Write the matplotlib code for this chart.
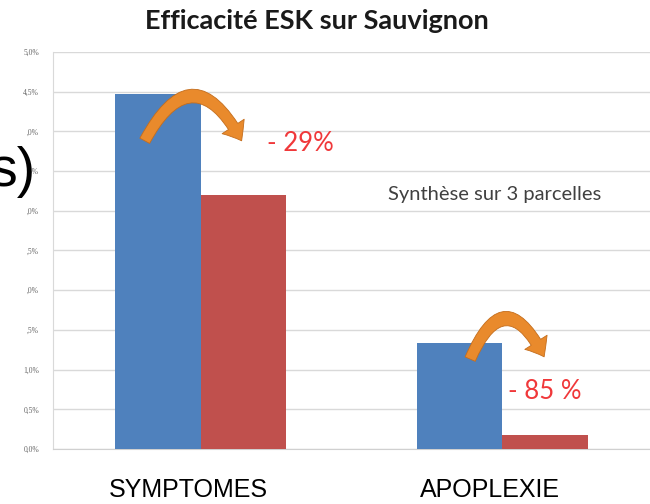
import matplotlib
matplotlib.use("Agg")
import matplotlib.pyplot as plt
import matplotlib.transforms as mtransforms
from matplotlib.patches import FancyArrowPatch
import numpy as np

categories = ["SYMPTOMES", "APOPLEXIE"]
temoin = [4.47, 1.34]
esk = [3.20, 0.18]
reductions = ["- 29%", "- 85 %"]
ytick_vals = [0.0, 0.5, 1.0, 1.5, 2.0, 2.5, 3.0, 3.5, 4.0, 4.5, 5.0]
ytick_labels = ["0,0%", "0,5%", "1,0%", ",5%", ",0%", ",5%", ",0%", ",5%", ",0%", "4,5%", "5,0%"]

blue = "#4F81BD"
red = "#C0504D"
orange = "#E98A2C"

fig = plt.figure(figsize=(6.5, 5.04), dpi=100)
ax = fig.add_axes([0.0815, 0.109, 0.9185, 0.788])

x = np.arange(len(categories))
w = 0.283
ax.bar(x - w/2, temoin, w, color=blue, zorder=3)
ax.bar(x + w/2, esk, w, color=red, zorder=3)

ax.set_xlim(-0.49, 1.49)
ax.set_ylim(0, 5.0)
ax.set_yticks(ytick_vals)
ax.set_yticklabels(ytick_labels, fontsize=5.5, color="#666666", family="Liberation Serif")
ax.tick_params(axis="y", length=0, pad=10)
ax.set_xticks([])
ax.grid(axis="y", color="#d9d9d9", linewidth=1, zorder=0)
for s in ["top", "right"]:
    ax.spines[s].set_visible(False)
ax.spines["left"].set_color("#d9d9d9")
ax.spines["bottom"].set_color("#d0d0d0")

# category labels below the axis
trans = mtransforms.blended_transform_factory(ax.transData, fig.transFigure)
for xi, lab in zip(x, categories):
    fig.text(xi - 0.04, 0.028, lab, transform=trans, ha="center", va="center",
             fontsize=18, family="Liberation Sans", color="black")

# curved orange arrows from control bar to treated bar
arc_rad = [-0.95, -1.1]
tails = [(-0.19, temoin[0] - 0.62), (0.89, temoin[1] - 0.24)]
tips = [(0.14, temoin[0] - 0.62), (1.143, temoin[1] - 0.21)]
for t, h, r in zip(tails, tips, arc_rad):
    arr = FancyArrowPatch(t, h, connectionstyle=f"arc3,rad={r}",
                          arrowstyle="simple,head_width=19,head_length=12,tail_width=8",
                          facecolor=orange, edgecolor="#c46d1c", linewidth=0.6,
                          mutation_scale=1, zorder=5)
    ax.add_patch(arr)

ax.text(0.22, temoin[0] - 0.62, reductions[0], color="#F0383A", fontsize=18.5,
        family="Lato", va="center", ha="left", zorder=6)
ax.text(1.02, 0.72, reductions[1], color="#F0383A", fontsize=18.5,
        family="Lato", va="center", ha="left", zorder=6)
ax.text(0.62, 3.20, "Synthèse sur 3 parcelles", color="#404040", fontsize=14.5,
        family="Lato", va="center", ha="left", zorder=6)

fig.text(0.488, 0.958, "Efficacité ESK sur Sauvignon", ha="center", va="center",
         fontsize=19.5, fontweight="bold", family="Lato", color="#1a1a1a")

# cut-off slide text on the left edge
fig.text(-0.016, 0.63, "s)", ha="left", va="baseline", fontsize=40,
         family="Liberation Sans", color="black")

fig.savefig("out.png", dpi=100)
